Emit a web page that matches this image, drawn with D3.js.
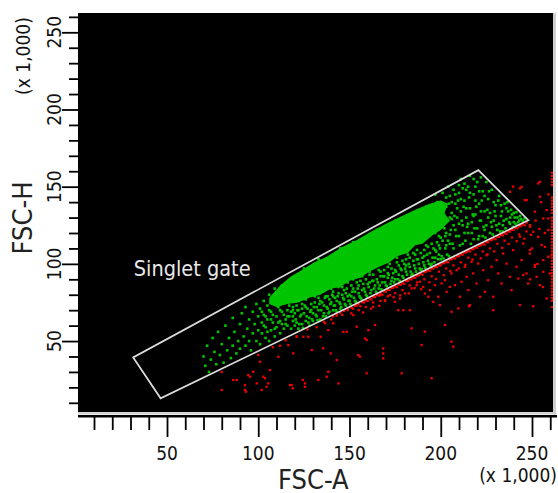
<!DOCTYPE html>
<html><head><meta charset="utf-8">
<script src="https://cdn.jsdelivr.net/npm/d3@7"></script>
<style>
html,body{margin:0;padding:0;background:#fff;}
svg{display:block;}
text{font-family:"DejaVu Sans Condensed","DejaVu Sans",sans-serif;font-stretch:condensed;}
</style></head><body>
<svg id="chart" width="558" height="493"></svg>
<script>
// ---- axis ticks / labels ----
const xMajorTicks=[50,100,150,200,250];
const xMinorTicks=[10,20,30,40,60,70,80,90,110,120,130,140,160,170,180,190,210,220,230,240,260];
const yMajorTicks=[50,100,150,200,250];
const yMinorTicks=[10,20,30,40,60,70,80,90,110,120,130,140,160,170,180,190,210,220,230,240,260];
const xTitle="FSC-A";
const yTitle="FSC-H";
const scaleNote="(x 1,000)";
const gateLabel="Singlet gate";
const gateLabelPos=[31.5,92];

// ---- gate polygon (FSC-A, FSC-H in thousands) ----
const gateVertices=[[31.5,39.4],[46.5,12.9],[248,128.3],[220.6,160.7]];

// ---- saturated density region of gated events ----
const denseCore=[[106,78],[112,86],[118,92],[124,96],[130,100.5],[138,105],[146,111],[154,115.5],[162,121],[170,126],[178,130.5],[186,135],[194,139],[200,141],[204,139],[202,133],[205,128],[200,122],[196,119],[190,113],[186,112],[182,107],[176,105],[172,101],[166,98],[161,95],[156,91],[150,89],[145,85],[140,84],[134,80],[128,78],[122,75],[116,74],[110,72],[106,74]];

// ---- gated events (green) ----
const gatedEvents=[
[70,40],[71,34],[72,47],[73,30],[74,38],[75,52],[76,43],[77,35],[78,56],[79,41],[80,48],[81,36],[82,60],[83,44],[84,52],[85,39],[86,65],[86,47],[87,56],[88,42],[89,50],[90,61],[90,45],[91,68],[92,53],[93,47],[93,72],[94,58],[95,64],[95,50],[96,44],[97,69],[97,55],[98,61],[99,74],[99,50],[100,66],[100,57],
[101,48],[101,71],[102,62],[102,55],[103,76],[103,67],[104,52],[104,59],[105,73],[105,64],[106,50],[106,80],[107,69],[107,57],[108,62],[108,75],[109,53],[109,84],[110,66],[110,59],[111,72],[111,78],[112,55],[112,63],[113,69],[113,86],[114,58],[114,75],[115,64],[115,81],[116,60],[116,70],[117,88],[117,66],[118,58],[118,76],[119,63],[119,72],[120,68],[120,60],[120,91],
[121,62],[122,70],[122,58],[123,66],[124,74],[124,61],[125,68],[126,63],[126,77],[127,71],[128,65],[128,60],[129,74],[130,68],[130,63],[131,79],[132,66],[132,72],[133,70],[134,64],[134,76],[135,82],[136,68],[136,73],[137,66],[138,79],[138,71],[139,69],[140,75],[140,84],[141,70],[142,78],[142,73],[143,69],[144,81],[145,74],[145,71],[146,85],[147,77],[148,73],[148,81],[149,88],[150,76],[150,80],
[151,79],[152,84],[153,76],[154,88],[155,81],[156,78],[157,92],[158,84],[159,80],[160,87],[161,95],[162,83],[163,89],[164,86],[165,99],[166,84],[167,92],[168,88],[169,96],[170,86],[171,91],[172,100],[173,89],[174,94],[175,90],[176,104],[177,93],[178,97],[179,92],[180,100],[181,95],[182,106],[183,98],[184,93],[185,102],[186,97],[187,109],[188,100],[189,96],[190,104],[191,99],[192,112],[193,102],[194,107],[195,100],[196,110],[197,104],[198,114],[199,106],[200,103],
[125,97],[133,103],[145,110],[152,114],[165,122],[175,128],[185,133],[192,137],
[196,128],[197,120],[198,135],[199,126],[200,117],[200,140],[201,131],[202,123],[203,112],[203,137],[204,128],[205,119],[205,144],[206,133],[207,125],[207,110],[208,139],[209,130],[210,118],[210,146],[211,134],[212,125],[212,113],[213,141],[214,130],[215,120],[215,150],[216,136],[217,127],[218,116],[218,145],[219,132],[220,123],[220,153],[221,139],[222,128],[223,118],[223,147],[224,134],[225,125],[226,142],[227,120],[227,133],[228,148],[229,128],[230,138],[231,122],[232,144],[233,131],[234,125],[235,139],[236,129],[237,134],[238,126],[239,132],[240,127],[242,130],[244,129],[197,145],[204,150],[211,155],[216,157],[225,153],
[152,90],[158,95],[163,99],[168,101],[172,104],[177,108],[183,112],[188,114],[193,118],[156,89],[161,93],[166,96],[171,98],[176,101],[181,103],[186,106],[191,109],[141,82],[137,85],[131,86],[127,81],[123,79],[118,80],[114,77],
[116,66],[119,70],[121,73],[124,71],[126,72],[129,70],[131,75],[133,78],[135,75],[137,79],[139,77],[141,79],[143,76],[144,85],[146,80],[147,83],[149,79],[151,86],[153,82],[155,86],[157,83],[159,90],[161,88],[163,93],[165,90],[167,95],[169,92],[171,94],[173,97],[175,96],[177,99],[179,102],[181,99],[183,104],[185,107],[187,103],[189,107],[191,105],[193,111],[195,113],[197,109],[199,112],[201,115],[203,120],[205,113],
[199,118],[201,124],[202,136],[204,115],[205,130],[206,140],[208,122],[209,136],[210,126],[211,142],[213,120],[214,136],[215,126],[216,146],[217,120],[218,131],[219,141],[221,118],[221,147],[222,134],[224,122],[224,144],[226,130],[228,124],[229,140],[230,131],[232,126],[233,138],[234,121],[236,136],[238,130],[240,133],[241,126],[243,128],[212,149],[208,145],[203,143],[198,140],[219,150],[222,156],
[120.5,64],[121.5,70],[122.5,61],[123.5,67],[124.5,58.5],[125.5,73],[126.5,66],[127.5,62],[128.5,69],[129.5,64],[130.5,72],[131.5,67],[132.5,63.5],[133.5,74],[134.5,70],[135.5,66],[136.5,78],[137.5,72],[138.5,68],[139.5,74],[140.5,80],[141.5,73],[142.5,70],[143.5,79],[144.5,75],[145.5,72],[146.5,78],[147.5,74],[148.5,84],[149.5,76],[150.5,74],[151.5,82],[152.5,78],[153.5,75.5],[154.5,84],[155.5,79],[156.5,77.5],[157.5,87],[158.5,82],[159.5,79],[160.5,85],[161.5,81],[162.5,89],[163.5,84],[164.5,82],[165.5,88],[166.5,86],[167.5,83.5],[168.5,92],[169.5,88],[170.5,85.5],[171.5,93],[172.5,87],[173.5,91],[174.5,88],[175.5,95],[176.5,90],[177.5,89],[178.5,96],[179.5,91],[180.5,97],[181.5,93],[182.5,100],[183.5,95],[184.5,93.5],[185.5,99],[186.5,95],[187.5,103],[188.5,97],[189.5,96.5],[190.5,101],[191.5,97.5],[192.5,106],[193.5,100],[194.5,99],[195.5,104],[196.5,101],[197.5,108],[198.5,103],[199.5,110],[200.5,105],[201.5,103.5],[202.5,110],[203.5,106],[204.5,105],
[200.5,124],[201.5,134],[202.5,118],[203.5,129],[204.5,139],[205.5,122],[206.5,113],[207.5,131],[208.5,118],[209.5,141],[210.5,112],[211.5,128],[212.5,137],[213.5,115],[214.5,124],[215.5,143],[216.5,113],[217.5,132],[218.5,123],[219.5,137],[220.5,116],[221.5,128],[222.5,141],[223.5,124],[224.5,117],[225.5,135],[226.5,147],[227.5,127],[228.5,119],[229.5,134],[230.5,125],[231.5,141],[232.5,121],[233.5,134],[234.5,128],[235.5,123],[236.5,140],[237.5,127],[238.5,135],[239.5,124],[240.5,130],[241.5,133.5],[242.5,127],[243.5,131],[245,128],[246,129.5],[207,148],[213,152],[218,155],[210,151],[201,146],[206,129],[214,148],
[104,66],[106,70],[108,67],[110,74],[112,70],[114,67],[116,76],[118,69],[103,60],[107,64],[111,62],[115,61],[119,66],[105,56],[109,58],[113,61],[117,73],[102,69],[121,84],[119,87],[114,83],[110,79],[128,94],[136,100],[143,104],[158,113],[168,120],[180,127],[190,134],[198,136]
];

// ---- events outside the gate (red) ----
const ungatedEvents=[
[80,18.3],[80,30],[86.3,24.8],[88.2,24.8],[92.7,21.5],[93.3,17.2],[95.5,26.9],[97.3,30.1],[99.2,22.6],[101,36.6],[101.9,18.3],[103.7,25.9],[105.5,22.6],[106.4,31.2],[111,39.8],[111.9,47],[116.5,47.4],[117.4,21.5],[118.9,19.4],[119.2,42],[121.1,52.8],[124.4,24.8],[124.7,52.8],[125.6,20.4],[127.4,52.8],[129.3,44.2],[132.9,24.8],[134.2,52.8],[135.6,45.3],[136.6,61.5],[137.5,26.9],[138.4,30.1],[138.4,57.1],[139.7,42],[141.1,61.5],[143,37.7],[143.9,22.6],[146.6,56],[148.5,56],[152.1,66.8],[153.9,59.3],[154.8,40.9],[158.5,51.7],[159.4,29.1],[160.3,57.1],[163,72.2],[164,60.4],[94.5,28],[102.8,26.9],[104.6,20.4],[92.7,18.3],[118.3,21.5],[125.6,22.6],
[155.7,39.9],[159.4,50.7],[168.5,45.2],[168.5,42],[168.5,38.8],[178.6,29.1],[184,58.2],[189.5,47.4],[191.3,56.1],[195,25.9],[202.3,60.4],[205.9,49.6],[206.9,46.4],[205.9,69],[215.6,72.6],[228.8,70],[250.7,72.6],
[166.7,79.7],[169.4,76.5],[172.2,79.7],[174.9,75.4],[176.7,70],[177.6,77.6],[179.5,70],[183.1,70],[180.4,80.8],[184,84.1],[186.8,86.2],[188.6,88.4],[190.4,85.1],[191.3,80.8],[193.2,78.7],[194.1,83],[195.9,75.4],[196.8,86.2],[198.6,78.7],[199.5,73.3],[200.5,87.3],[202.3,89.4],[203.2,81.9],[205,85.1],[205.9,93.8],[207.8,86.2],[208.7,95.9],[209.6,71.1],[210.5,78.7],[211.4,88.4],[213.2,98.1],[214.2,91.6],[215.1,83],[216,73.3],[216.9,101.3],[217.8,93.8],[219.6,87.3],[220.5,100.2],[221.5,78.7],[223.3,95.9],[224.2,81.9],[225.1,105.6],[226,89.4],[227.8,98.1],[228.8,78.7],[230.6,102.4],[231.5,93.8],[233.3,87.3],[234.2,106.7],[236.1,100.2],[237.9,91.6],[238.8,83],[239.7,108.9],[241.5,98.1],[242.5,90.5],[243.4,73.3],[244.3,102.4],[245.2,113.2],[247,93.8],[247.9,87.3],[248.8,106.7],[251.6,98.1],[252.5,91.6],[253.4,117.5],[254.3,86.2],[256.2,102.4],[257.1,111],[258,77.6],[259.8,93.8],[260.7,105.6],[261.6,76.5],
[100,41],[108,46],[115,50.5],[121,53],[127,57.5],[132,59],[136,62.5],[140,64],[143,66.5],[146,67],[149,70],[152,71],[154,73],[156,72.5],[158,75],[160,76],[162,77],[164,78.5],[166,79.5],[168,80],[170,82],[172,83],[174,84.5],[176,85],[178,86.5],[180,87],[182,89],[184,90],[186,91],[188,92.5],[190,93],[192,95],[194,95.5],[196,97],[198,98],[200,99],[202,100.5],[204,101],[206,103],[208,103.5],[210,105],[212,106],[214,107.5],[216,108],[218,109.5],[220,110.5],[222,112],[224,112.5],[226,114],[228,115.5],[230,116],[232,117.5],[234,118.5],[236,119.5],[238,121],[240,122],[242,123],[244,124.5],[246,125],
[141,66],[143,67.2],[145,68.3],[147,69.5],[149,70.6],[151,71.7],[153,72.9],[155,74],[157,75.2],[159,76.3],[161,77.5],[163,78.6],[165,79.8],[167,80.9],[169,82.1],[171,83.2],[173,84.3],[175,85.5],[177,86.6],[179,87.8],[181,88.9],[183,90.1],[185,91.2],[187,92.4],[189,93.5],[191,94.7],[193,95.8],[195,96.9],[197,98.1],[199,99.2],[201,100.4],[203,101.5],[205,102.7],[207,103.8],[209,105],[211,106.1],[213,107.3],[215,108.4],[217,109.5],[219,110.7],[221,111.8],[223,113],[225,114.1],[227,115.3],[229,116.4],[231,117.6],[233,118.7],[235,119.9],[237,121],[239,122.1],[241,123.3],[243,124.4],[245,125.6],[247,126.7],
[151,68],[155,70],[159,72],[163,75],[167,76],[171,79],[175,81],[179,83],[183,86],[187,88],[191,90],[195,92],[199,95],[203,97],[207,99],[211,101],[215,104],[219,106],[223,108],[227,110],[231,113],[235,115],[239,117],[243,119],[247,121],
[157.5,68.5],[161.8,71],[166.3,72.8],[169.6,75.9],[174.2,78.4],[177.8,79.6],[182.5,80.9],[185.7,84.3],[189.3,83.6],[193.8,88.1],[197.4,90.2],[201.7,92.6],[205.2,95.3],[209.8,97.1],[213.5,99.4],[217.4,102.8],[221.9,103.6],[225.6,106.2],[229.3,108.1],[233.7,110.4],[237.2,112.9],[241.6,114.7],[245.8,116.3],[249.4,118.8],[254.1,122.6],
[237.9,146.7],[239.7,150],[243.4,148.9],[246.1,141.3],[251.6,133.8],[253.4,152.1],[254.3,143.5],[258,134.8],[258.9,129.4],[248.9,125.1],[243.4,117.6],[250.7,120.8],[255.3,112.2],[248.9,109],[258.9,104.6],[251.6,99.3],[256.2,94.9],[245.2,92.8],[244.3,149.9],[247,141.3],[254.3,153.1],[256.2,129.4],[258.9,121.9],[248.9,124],[250,110],[252,128],[255,140],[257,120],[259,145],[253,100],[249,90],[256,85],
[261,159],[261,157],[261,155],[261,153],[261,151],[261,143],[261,141],[261,139],[261,137],[261,135],[261,133],[261,130],[261,128],[261,126],[261,124],[261,122],[261,120],[261,118],[261,116],[261,114],[261,112],[261,110],[261,108],[261,106],[261,104],[261,102],[261,100],[261,98],[261,96],[261,94],[261,92],[261,90],[261,88],[261,86],[261,84],[261,82],[261,80],[261,78],[261,76],[261,72]
];

// ---- layout ----
const plot={left:78,top:13,right:553,bottom:412};
const svg=d3.select("#chart");
const x=d3.scaleLinear().domain([0,260]).range([75.75,550.25]);
const y=d3.scaleLinear().domain([0,250]).range([418.25,32.3]);

svg.append("defs").append("clipPath").attr("id","clip")
  .append("rect").attr("x",plot.left).attr("y",plot.top)
  .attr("width",plot.right-plot.left).attr("height",plot.bottom-plot.top);

svg.append("rect").attr("x",plot.left).attr("y",plot.top)
  .attr("width",plot.right-plot.left).attr("height",plot.bottom-plot.top).attr("fill","#000");
svg.append("rect").attr("x",plot.left).attr("y",plot.bottom).attr("width",plot.right-plot.left+3).attr("height",2.5).attr("fill","#d4d4d4");
svg.append("rect").attr("x",plot.right).attr("y",plot.top).attr("width",3).attr("height",plot.bottom-plot.top+2.5).attr("fill","#cfcfcf");
svg.append("rect").attr("x",plot.left).attr("y",415).attr("width",plot.right-plot.left+4).attr("height",2.5).attr("fill","#000");

const g=svg.append("g").attr("clip-path","url(#clip)");
const rs=2.3, gs=2.6;
g.selectAll("rect.red").data(ungatedEvents).join("rect").attr("class","red")
  .attr("x",d=>x(d[0])-rs/2).attr("y",d=>y(d[1])-rs/2).attr("width",rs).attr("height",rs).attr("fill","#f00000");
g.append("path").datum(denseCore)
  .attr("d",d3.line().x(d=>x(d[0])).y(d=>y(d[1])).curve(d3.curveLinearClosed))
  .attr("fill","#00c400");
g.selectAll("rect.green").data(gatedEvents).join("rect").attr("class","green")
  .attr("x",d=>x(d[0])-gs/2).attr("y",d=>y(d[1])-gs/2).attr("width",gs).attr("height",gs).attr("fill","#00c400");
g.append("path").datum(gateVertices)
  .attr("d",d3.line().x(d=>x(d[0])).y(d=>y(d[1])).curve(d3.curveLinearClosed))
  .attr("fill","none").attr("stroke","#dcdcdc").attr("stroke-width",1.7);
g.append("text").attr("x",x(gateLabelPos[0])+0.5).attr("y",y(gateLabelPos[1]))
  .attr("font-size",21.5).attr("fill","#e8e8e8").text(gateLabel);

const xAxisMinor=d3.axisBottom(x).tickValues(xMinorTicks).tickSize(13).tickFormat("");
const xAxisMajor=d3.axisBottom(x).tickValues(xMajorTicks).tickSize(20).tickFormat("");
const gx1=svg.append("g").attr("transform","translate(0,417)").call(xAxisMinor);
const gx2=svg.append("g").attr("transform","translate(0,417)").call(xAxisMajor);
[gx1,gx2].forEach(a=>{a.select(".domain").remove();a.selectAll("line").attr("stroke","#000").attr("stroke-width",1.8);});
svg.append("g").selectAll("text").data(xMajorTicks).join("text")
  .attr("x",d=>x(d)).attr("y",460).attr("text-anchor","middle").attr("font-size",19).attr("fill","#111").text(d=>d);

const yAxisMinor=d3.axisLeft(y).tickValues(yMinorTicks).tickSize(9).tickFormat("");
const yAxisMajor=d3.axisLeft(y).tickValues(yMajorTicks).tickSize(16).tickFormat("");
const gy1=svg.append("g").attr("transform",`translate(${plot.left},0)`).call(yAxisMinor);
const gy2=svg.append("g").attr("transform",`translate(${plot.left},0)`).call(yAxisMajor);
[gy1,gy2].forEach(a=>{a.select(".domain").remove();a.selectAll("line").attr("stroke","#000").attr("stroke-width",1.8);});
svg.append("g").selectAll("text").data(yMajorTicks).join("text")
  .attr("transform",d=>`translate(61,${y(d)}) rotate(-90)`).attr("text-anchor","middle")
  .attr("font-size",19).attr("fill","#111").text(d=>d);

svg.append("text").attr("x",278).attr("y",488.5).attr("font-size",27).attr("fill","#222").text(xTitle);
svg.append("text").attr("transform","translate(32,218) rotate(-90)").attr("text-anchor","middle")
  .attr("font-size",27).attr("fill","#222").text(yTitle);
svg.append("text").attr("x",557).attr("y",482).attr("text-anchor","end").attr("font-size",19).attr("fill","#111").text(scaleNote);
svg.append("text").attr("transform","translate(30,56) rotate(-90)").attr("text-anchor","middle")
  .attr("font-size",19).attr("fill","#111").text(scaleNote);
</script>
</body></html>
